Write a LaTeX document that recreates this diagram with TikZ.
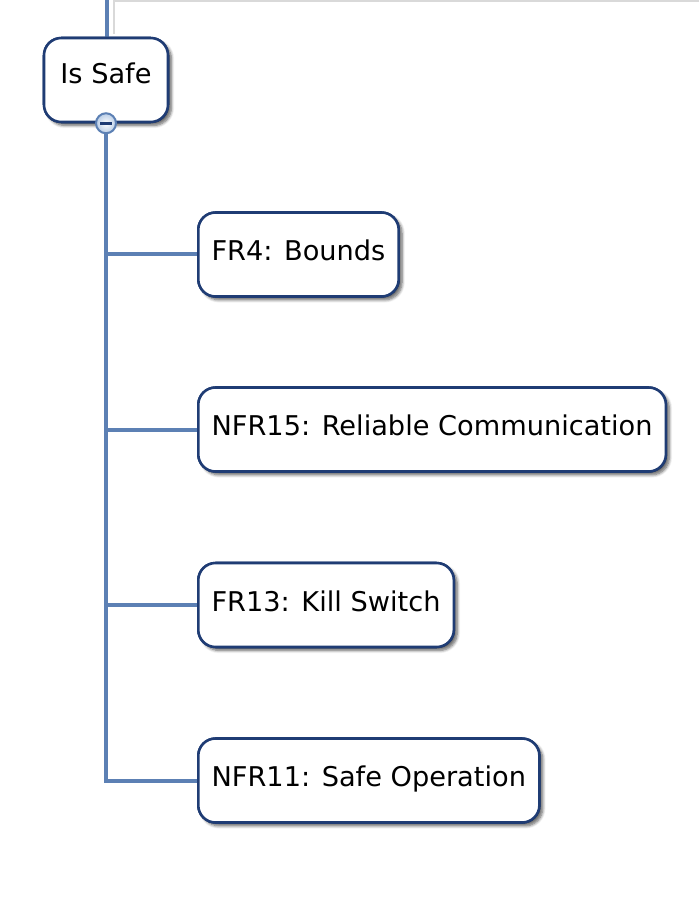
\documentclass[tikz,border=0pt]{standalone}
\usepackage{fontspec}
\setmainfont{DejaVu Sans}
\usetikzlibrary{shadows.blur}
\definecolor{boxline}{HTML}{1F3C74}
\definecolor{conncol}{HTML}{5C80B4}
\definecolor{shadecol}{HTML}{CFCFCF}
\definecolor{togfill}{HTML}{B9CDE6}
\tikzset{
  topic/.style={draw=boxline, line width=1.9pt, fill=white, rounded corners=13pt,
    minimum height=63pt, inner xsep=10pt, anchor=west,
    text height=16pt, text depth=6.5pt,
    font=\fontsize{20.4}{24}\selectfont,
    blur shadow={shadow xshift=2.5pt, shadow yshift=-2.5pt, shadow blur steps=6, shadow opacity=35}},
  roottopic/.style={topic, anchor=center, minimum width=93pt, text depth=10pt},
  conn/.style={draw=conncol, line width=3pt},
  connshadow/.style={draw=shadecol, line width=2.5pt},
  toggle/.style={circle, draw=conncol, line width=1.5pt, inner sep=0pt, minimum size=15pt,
    inner color=white, outer color=togfill}
}
\begin{document}
\begin{tikzpicture}[x=0.75pt,y=-0.75pt]
\useasboundingbox (0,0) rectangle (699,919);
% nodes
\node[roottopic] (safe) at (106,80) {Is Safe};
\node[topic] (fr4) at (197,254.5) {FR4: Bounds};
\node[topic] (nfr15) at (197,429.5) {NFR15: Reliable Communication};
\node[topic] (fr13) at (197,605) {FR13: Kill Switch};
\node[topic] (nfr11) at (197,780.5) {NFR11: Safe Operation};
\coordinate (topin) at (107,0);
\coordinate (topshade) at (114,34);
\coordinate (topright) at (699,1);
% parent connector shadow and line
\draw[draw=shadecol!80, line width=1.6pt] (topright) -| (topshade);
\begin{scope}[xshift=3pt,yshift=-3pt]
\draw[connshadow] (safe.south) |- (nfr11.west);
\draw[connshadow] (safe.south |- fr4.west) -- (fr4.west);
\draw[connshadow] (safe.south |- nfr15.west) -- (nfr15.west);
\draw[connshadow] (safe.south |- fr13.west) -- (fr13.west);
\end{scope}
\draw[conn] (topin) -- (topin |- safe.north);
% redraw topic on top
\node[roottopic] at (106,80) {Is Safe};
% children connectors
\draw[conn] (safe.south) |- (nfr11.west);
\draw[conn] (safe.south |- fr4.west) -- (fr4.west);
\draw[conn] (safe.south |- nfr15.west) -- (nfr15.west);
\draw[conn] (safe.south |- fr13.west) -- (fr13.west);
% redraw children boxes over line ends
\node[topic] at (197,254.5) {FR4: Bounds};
\node[topic] at (197,429.5) {NFR15: Reliable Communication};
\node[topic] at (197,605) {FR13: Kill Switch};
\node[topic] at (197,780.5) {NFR11: Safe Operation};
% toggle
\node[toggle] (tog) at (safe.south) {};
\draw[boxline, line width=2pt] ([xshift=-4.5pt]tog.center) -- ([xshift=4.5pt]tog.center);
\end{tikzpicture}
\end{document}
